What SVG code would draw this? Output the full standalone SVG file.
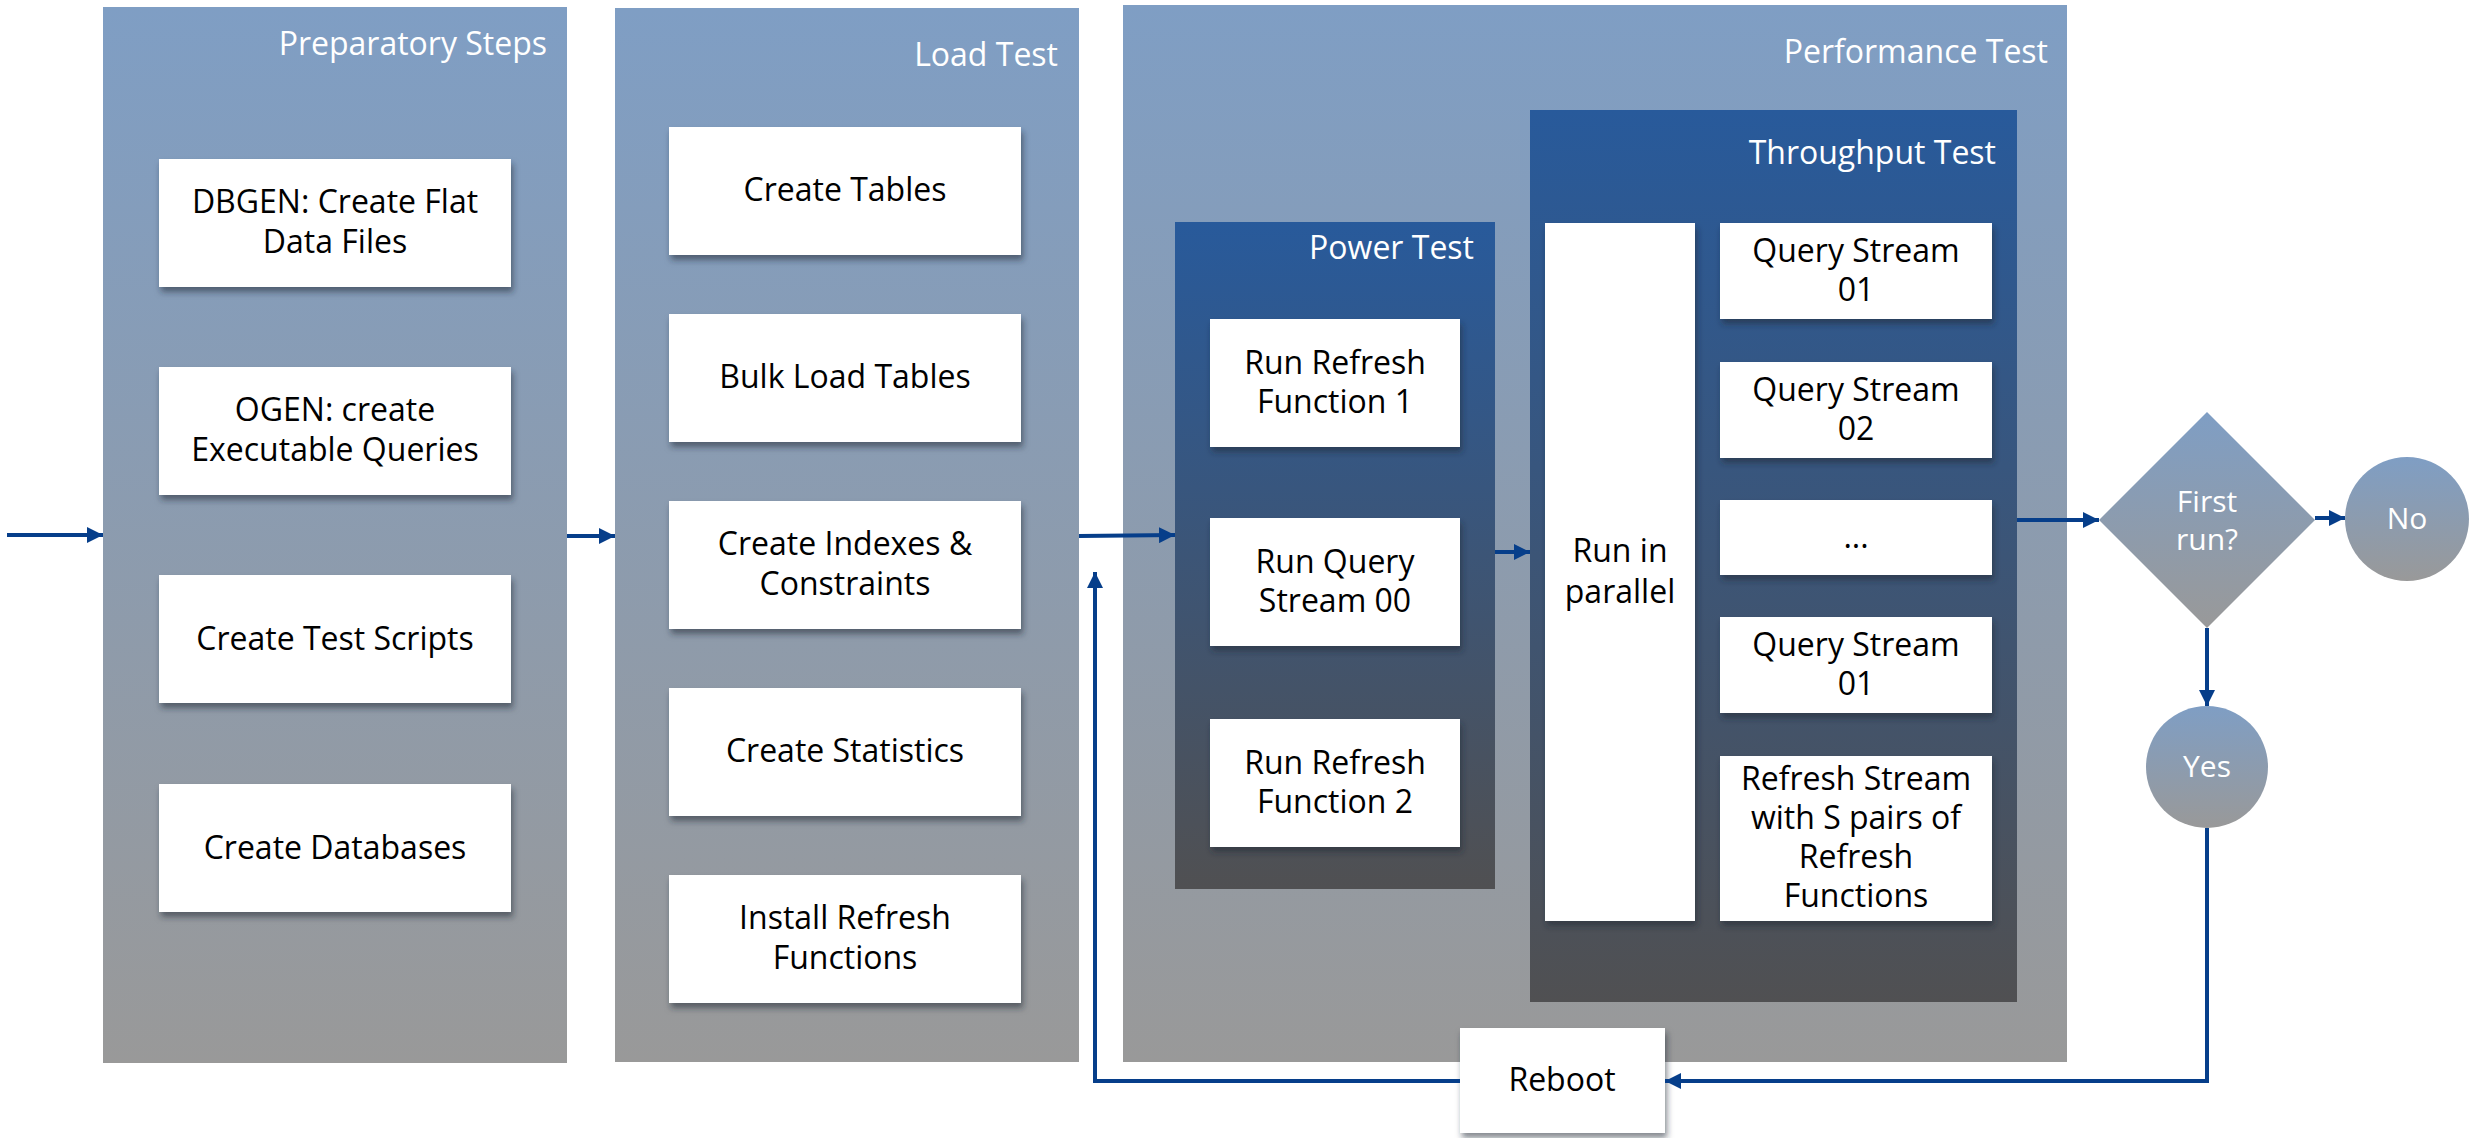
<svg xmlns="http://www.w3.org/2000/svg" width="2478" height="1138" viewBox="0 0 2478 1138">
  <defs>
    <linearGradient id="paleGrad" x1="0" y1="0" x2="0" y2="1">
      <stop offset="0" stop-color="#7f9ec4"/>
      <stop offset="1" stop-color="#999999"/>
    </linearGradient>
    <linearGradient id="darkGrad" x1="0" y1="0" x2="0" y2="1">
      <stop offset="0" stop-color="#285a9b"/>
      <stop offset="1" stop-color="#505052"/>
    </linearGradient>
    <filter id="shadow" x="-10%" y="-10%" width="125%" height="135%">
      <feDropShadow dx="2" dy="5" stdDeviation="3" flood-color="#1c2536" flood-opacity="0.55"/>
    </filter>
    <marker id="arrow" viewBox="0 0 16 16" markerWidth="16" markerHeight="16" refX="16" refY="8" orient="auto" markerUnits="userSpaceOnUse">
      <path d="M0,0 L16,8 L0,16 z" fill="#063e8a"/>
    </marker>
  </defs>
  <style>
    .panel { fill: url(#paleGrad); }
    .inner { fill: url(#darkGrad); }
    .box { fill: #ffffff; filter: url(#shadow); }
    .title { font-family: "Open Sans", "Noto Sans", sans-serif; font-size: 32px; fill: #ffffff; text-anchor: end; }
    .label { font-family: "Open Sans", "Noto Sans", sans-serif; font-size: 32px; fill: #000000; text-anchor: middle; }
    .light { font-family: "Open Sans", "Noto Sans", sans-serif; font-size: 30px; fill: #ffffff; text-anchor: middle; }
    .flow { fill: none; stroke: #063e8a; stroke-width: 4; }
  </style>

  <!-- Stage panels -->
  <g id="preparatory-steps">
    <rect class="panel" x="103" y="7" width="464" height="1056"/>
    <text class="title" x="547" y="55">Preparatory Steps</text>
  </g>
  <g id="load-test">
    <rect class="panel" x="615" y="8" width="464" height="1054"/>
    <text class="title" x="1058" y="66">Load Test</text>
  </g>
  <g id="performance-test">
    <rect class="panel" x="1123" y="5" width="944" height="1057"/>
    <text class="title" x="2048" y="63">Performance Test</text>
  </g>
  <g id="power-test">
    <rect class="inner" x="1175" y="222" width="320" height="667"/>
    <text class="title" x="1474" y="259">Power Test</text>
  </g>
  <g id="throughput-test">
    <rect class="inner" x="1530" y="110" width="487" height="892"/>
    <text class="title" x="1996" y="164">Throughput Test</text>
  </g>

  <!-- Preparatory steps -->
  <g id="dbgen">
    <rect class="box" x="159" y="159" width="352" height="128"/>
    <text class="label" x="335" y="213">DBGEN: Create Flat</text>
    <text class="label" x="335" y="253">Data Files</text>
  </g>
  <g id="qgen">
    <rect class="box" x="159" y="367" width="352" height="128"/>
    <text class="label" x="335" y="421">OGEN: create</text>
    <text class="label" x="335" y="461">Executable Queries</text>
  </g>
  <g id="create-test-scripts">
    <rect class="box" x="159" y="575" width="352" height="128"/>
    <text class="label" x="335" y="650">Create Test Scripts</text>
  </g>
  <g id="create-databases">
    <rect class="box" x="159" y="784" width="352" height="128"/>
    <text class="label" x="335" y="859">Create Databases</text>
  </g>

  <!-- Load test steps -->
  <g id="create-tables">
    <rect class="box" x="669" y="127" width="352" height="128"/>
    <text class="label" x="845" y="201">Create Tables</text>
  </g>
  <g id="bulk-load-tables">
    <rect class="box" x="669" y="314" width="352" height="128"/>
    <text class="label" x="845" y="388">Bulk Load Tables</text>
  </g>
  <g id="create-indexes">
    <rect class="box" x="669" y="501" width="352" height="128"/>
    <text class="label" x="845" y="555">Create Indexes &amp;</text>
    <text class="label" x="845" y="595">Constraints</text>
  </g>
  <g id="create-statistics">
    <rect class="box" x="669" y="688" width="352" height="128"/>
    <text class="label" x="845" y="762">Create Statistics</text>
  </g>
  <g id="install-refresh-functions">
    <rect class="box" x="669" y="875" width="352" height="128"/>
    <text class="label" x="845" y="929">Install Refresh</text>
    <text class="label" x="845" y="969">Functions</text>
  </g>

  <!-- Power test steps -->
  <g id="run-refresh-1">
    <rect class="box" x="1210" y="319" width="250" height="128"/>
    <text class="label" x="1335" y="374">Run Refresh</text>
    <text class="label" x="1335" y="413">Function 1</text>
  </g>
  <g id="run-query-stream-00">
    <rect class="box" x="1210" y="518" width="250" height="128"/>
    <text class="label" x="1335" y="573">Run Query</text>
    <text class="label" x="1335" y="612">Stream 00</text>
  </g>
  <g id="run-refresh-2">
    <rect class="box" x="1210" y="719" width="250" height="128"/>
    <text class="label" x="1335" y="774">Run Refresh</text>
    <text class="label" x="1335" y="813">Function 2</text>
  </g>

  <!-- Throughput test steps -->
  <g id="run-in-parallel">
    <rect class="box" x="1545" y="223" width="150" height="698"/>
    <text class="label" x="1620" y="562">Run in</text>
    <text class="label" x="1620" y="603">parallel</text>
  </g>
  <g id="query-stream-01">
    <rect class="box" x="1720" y="223" width="272" height="96"/>
    <text class="label" x="1856" y="262">Query Stream</text>
    <text class="label" x="1856" y="301">01</text>
  </g>
  <g id="query-stream-02">
    <rect class="box" x="1720" y="362" width="272" height="96"/>
    <text class="label" x="1856" y="401">Query Stream</text>
    <text class="label" x="1856" y="440">02</text>
  </g>
  <g id="query-stream-more">
    <rect class="box" x="1720" y="500" width="272" height="75"/>
    <text class="label" x="1856" y="548">...</text>
  </g>
  <g id="query-stream-last">
    <rect class="box" x="1720" y="617" width="272" height="96"/>
    <text class="label" x="1856" y="656">Query Stream</text>
    <text class="label" x="1856" y="695">01</text>
  </g>
  <g id="refresh-stream">
    <rect class="box" x="1720" y="756" width="272" height="165"/>
    <text class="label" x="1856" y="790">Refresh Stream</text>
    <text class="label" x="1856" y="829">with S pairs of</text>
    <text class="label" x="1856" y="868">Refresh</text>
    <text class="label" x="1856" y="907">Functions</text>
  </g>

  <!-- Decision and outcomes -->
  <g id="first-run">
    <polygon points="2207,412 2315,520 2207,628 2099,520" fill="url(#paleGrad)"/>
    <text class="light" x="2207" y="512">First</text>
    <text class="light" x="2207" y="550">run?</text>
  </g>
  <g id="no">
    <circle cx="2407" cy="519" r="62" fill="url(#paleGrad)"/>
    <text class="light" x="2407" y="529">No</text>
  </g>
  <g id="yes">
    <circle cx="2207" cy="767" r="61" fill="url(#paleGrad)"/>
    <text class="light" x="2207" y="777">Yes</text>
  </g>
  <g id="reboot">
    <rect class="box" x="1460" y="1028" width="205" height="105"/>
    <text class="label" x="1562" y="1091">Reboot</text>
  </g>

  <!-- Connectors -->
  <g id="connectors">
    <line class="flow" x1="7" y1="535" x2="103" y2="535" marker-end="url(#arrow)"/>
    <line class="flow" x1="567" y1="536" x2="615" y2="536" marker-end="url(#arrow)"/>
    <line class="flow" x1="1079" y1="536" x2="1175" y2="535" marker-end="url(#arrow)"/>
    <line class="flow" x1="1495" y1="552" x2="1530" y2="552" marker-end="url(#arrow)"/>
    <line class="flow" x1="2017" y1="520" x2="2099" y2="520" marker-end="url(#arrow)"/>
    <line class="flow" x1="2315" y1="518" x2="2345" y2="518" marker-end="url(#arrow)"/>
    <line class="flow" x1="2207" y1="628" x2="2207" y2="706" marker-end="url(#arrow)"/>
    <polyline class="flow" points="2207,828 2207,1081 1665,1081" marker-end="url(#arrow)"/>
    <polyline class="flow" points="1460,1081 1095,1081 1095,572" marker-end="url(#arrow)"/>
  </g>
</svg>
